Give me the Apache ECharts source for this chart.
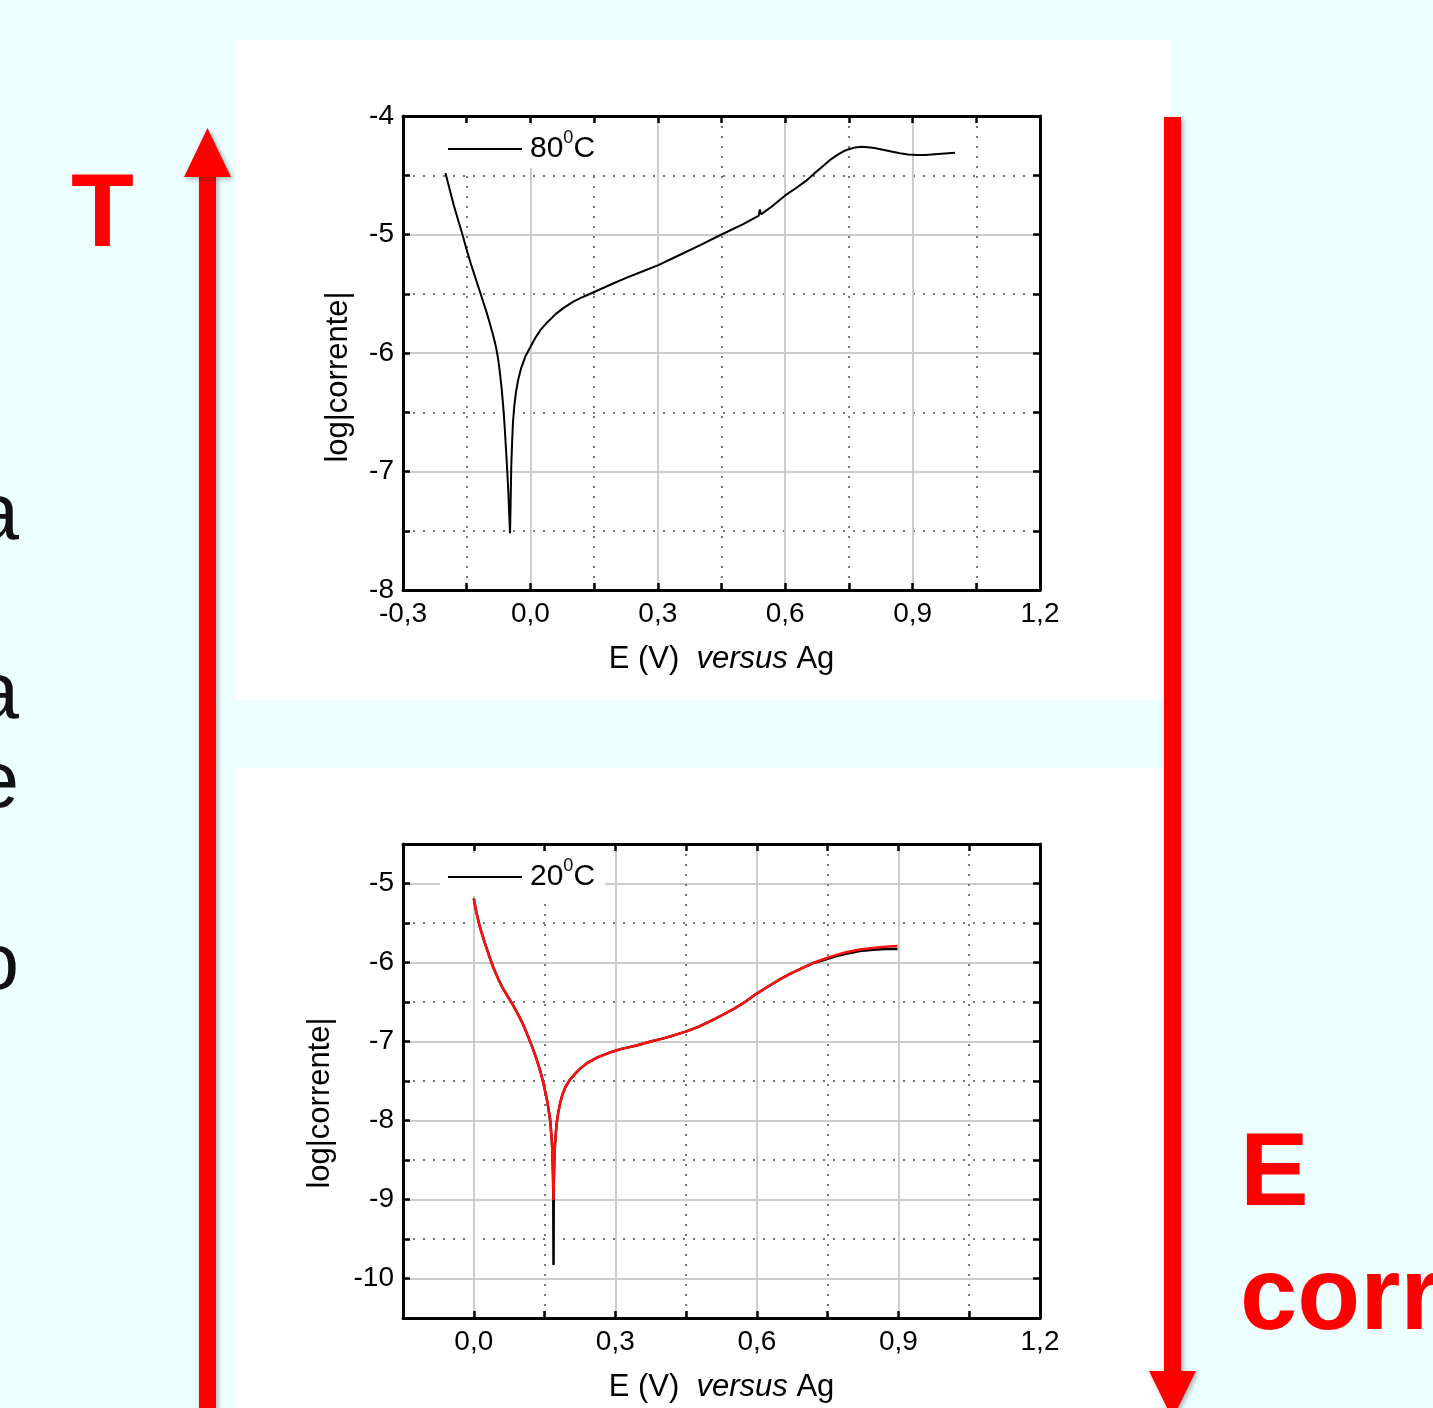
<!DOCTYPE html>
<html><head><meta charset="utf-8">
<script src="https://cdn.jsdelivr.net/npm/echarts@6/dist/echarts.min.js"></script>
<style>
html,body{margin:0;padding:0;background:#ecfefe;width:1433px;height:1408px;overflow:hidden;}
.panel{position:absolute;background:#fff;}
#chart{position:absolute;left:0;top:0;width:1433px;height:1408px;}
</style></head><body>
<div class="panel" style="left:236px;top:40px;width:934px;height:660px"></div>
<div class="panel" style="left:236px;top:768px;width:929px;height:640px"></div>
<div id="chart"></div>
<script>
// ---------- data: 80 °C ----------
const E80 = [-0.200,-0.190,-0.180,-0.170,-0.160,-0.150,-0.140,-0.130,-0.120,-0.111,-0.102,-0.094,-0.087,-0.081,-0.076,-0.072,-0.068,-0.064,-0.061,-0.058,-0.055,-0.052,-0.050,-0.048,
  -0.047,-0.046,-0.045,-0.043,-0.041,-0.038,-0.034,-0.029,-0.022,-0.012,0.000,0.012,0.025,0.040,0.060,0.080,0.102,0.125,0.150,0.175,0.200,0.230,0.265,0.300,0.350,0.400,0.450,0.500,
  0.538,0.540,0.543,0.570,0.600,0.625,0.648,0.670,0.690,0.706,0.722,0.736,0.750,0.765,0.780,0.795,0.810,0.830,0.850,0.870,0.890,0.910,0.930,0.960,1.000];
const I80 = [-4.48,-4.62,-4.76,-4.88,-5.00,-5.13,-5.25,-5.36,-5.47,-5.57,-5.67,-5.77,-5.86,-5.95,-6.05,-6.16,-6.29,-6.45,-6.60,-6.78,-6.96,-7.17,-7.35,-7.52,
  -7.35,-7.15,-6.95,-6.75,-6.58,-6.45,-6.33,-6.23,-6.13,-6.03,-5.95,-5.87,-5.80,-5.74,-5.67,-5.615,-5.565,-5.525,-5.485,-5.445,-5.405,-5.36,-5.31,-5.26,-5.175,-5.09,-5.00,-4.915,
  -4.84,-4.79,-4.83,-4.76,-4.67,-4.61,-4.55,-4.48,-4.42,-4.37,-4.33,-4.30,-4.28,-4.265,-4.26,-4.263,-4.27,-4.285,-4.30,-4.315,-4.325,-4.33,-4.33,-4.32,-4.31];

// ---------- data: 20 °C ----------
const E20 = [0.000,0.004,0.008,0.013,0.019,0.026,0.034,0.0425,0.052,0.062,0.073,0.084,0.095,0.105,0.114,0.122,0.130,0.137,0.143,0.148,0.152,0.156,0.159,0.162,0.164,0.166,0.1675,0.1685,0.169,
  0.1695,0.1705,0.172,0.174,0.176,0.179,0.183,0.188,0.194,0.203,0.213,0.226,0.241,0.262,0.288,0.315,0.345,0.375,0.402,0.425,0.449,0.478,0.506,0.530,0.553,0.575,0.598,0.622,0.647,0.670,0.695,0.718,0.742,0.765,0.789,0.818,0.846,0.872,0.898];
const I20black = [-5.19,-5.32,-5.43,-5.55,-5.67,-5.80,-5.94,-6.08,-6.21,-6.33,-6.44,-6.55,-6.67,-6.79,-6.92,-7.04,-7.17,-7.30,-7.42,-7.54,-7.65,-7.77,-7.88,-8.00,-8.15,-8.32,-8.60,-8.90,-9.83,
  -8.80,-8.55,-8.32,-8.15,-8.02,-7.90,-7.78,-7.67,-7.58,-7.49,-7.42,-7.34,-7.27,-7.20,-7.14,-7.09,-7.05,-7.00,-6.96,-6.92,-6.875,-6.81,-6.73,-6.655,-6.58,-6.50,-6.40,-6.31,-6.22,-6.145,-6.075,-6.01,-5.97,-5.925,-5.89,-5.855,-5.84,-5.83,-5.83];
const I20red = [-5.19,-5.32,-5.43,-5.55,-5.67,-5.80,-5.94,-6.08,-6.21,-6.33,-6.44,-6.55,-6.67,-6.79,-6.92,-7.04,-7.17,-7.30,-7.42,-7.54,-7.65,-7.77,-7.88,-8.00,-8.15,-8.32,-8.55,-8.80,-9.01,
  -8.80,-8.55,-8.32,-8.15,-8.02,-7.90,-7.78,-7.67,-7.58,-7.49,-7.42,-7.34,-7.27,-7.20,-7.14,-7.09,-7.05,-7.00,-6.96,-6.92,-6.875,-6.81,-6.73,-6.655,-6.58,-6.50,-6.40,-6.31,-6.22,-6.145,-6.075,-6.01,-5.955,-5.91,-5.87,-5.835,-5.815,-5.80,-5.79];

// ---------- tick labels ----------
const xTicks80 = [-0.3, 0.0, 0.3, 0.6, 0.9, 1.2];
const yTicks80 = [-8, -7, -6, -5, -4];
const xTicks20 = [0.0, 0.3, 0.6, 0.9, 1.2];
const yTicks20 = [-10, -9, -8, -7, -6, -5];

const FONT = "'Liberation Sans', Arial, Helvetica, sans-serif";
const zip = (a, b) => a.map((v, i) => [v, b[i]]);
const has = (ticks, v) => ticks.some(t => Math.abs(t - v) < 1e-6);
const xFmt = ticks => v => has(ticks, v) ? (Math.abs(v) < 1e-9 ? 0 : v).toFixed(1).replace('.', ',') : '';
const yFmt = ticks => v => has(ticks, v) ? String(Math.round(v)) : '';

const SOLID = '#cccccc', DOT = '#777777', NONE = 'rgba(0,0,0,0)';

function axisPair(kind, gi, min, max, step, majorFirst, fmt, name, nameGap, namePad) {
  const base = {
    type: 'value', gridIndex: gi, min: min, max: max, interval: step,
    axisLine: { show: true, onZero: false, lineStyle: { color: '#000', width: 3 } },
    axisTick: { show: true, inside: true, length: 7, lineStyle: { color: '#000', width: 2.5 } }
  };
  const main = Object.assign({}, base, {
    position: kind === 'x' ? 'bottom' : 'left',
    axisLabel: { formatter: fmt, color: '#000', fontSize: 28, fontFamily: FONT, margin: kind === 'x' ? 10 : 9, showMinLabel: true, showMaxLabel: true },
    splitLine: { show: true, showMinLine: true, showMaxLine: true, lineStyle: { color: majorFirst ? [NONE, DOT] : [DOT, NONE], width: 2, type: [2, 8] } },
    name: name, nameLocation: 'middle', nameGap: nameGap,
    nameTextStyle: { color: '#000', fontSize: 31, fontFamily: FONT, padding: namePad,
      rich: { i: { fontStyle: 'italic', fontSize: 31, fontFamily: FONT, color: '#000' } } }
  });
  const mirror = Object.assign({}, base, {
    position: kind === 'x' ? 'top' : 'right',
    axisLabel: { show: false },
    splitLine: { show: true, showMinLine: true, showMaxLine: true, lineStyle: { color: majorFirst ? [SOLID, NONE] : [NONE, SOLID], width: 2, type: 'solid' } }
  });
  return [main, mirror];
}

const xAxes = [
  ...axisPair('x', 0, -0.3, 1.2, 0.15, true, xFmt(xTicks80), 'E (V)  {i|versus} Ag', 54, 0),
  ...axisPair('x', 1, -0.15, 1.2, 0.15, false, xFmt(xTicks20), 'E (V)  {i|versus} Ag', 54, 0)
];
const yAxes = [
  ...axisPair('y', 0, -8, -4, 0.5, true, yFmt(yTicks80), 'log|corrente|', 49, [0, 48, 0, 0]),
  ...axisPair('y', 1, -10.5, -4.5, 0.5, false, yFmt(yTicks20), 'log|corrente|', 67, [0, 44, 0, 0])
];

const legendBase = {
  icon: 'rect', itemWidth: 74, itemHeight: 2, backgroundColor: '#fff', padding: [4, 10, 4, 8],
  selectedMode: false, left: 440,
  formatter: n => n + '{s|0}C',
  textStyle: { color: '#000', fontSize: 30, fontFamily: FONT, padding: [0, 0, 0, 3],
    rich: { s: { fontSize: 18, fontFamily: FONT, color: '#000', padding: [0, 0, 22, 0] } } }
};

const RED = '#ff0000';
const shadow = { shadowBlur: 5, shadowColor: 'rgba(0,0,0,0.3)', shadowOffsetX: 2, shadowOffsetY: 2 };
const bigRed = "bold 103px " + FONT;
const blackTxt = "80px " + FONT;

const chart = echarts.init(document.getElementById('chart'), null, { renderer: 'canvas' });
chart.setOption({
  backgroundColor: 'transparent',
  animation: false,
  grid: [
    { left: 403, top: 116, width: 637, height: 474 },
    { left: 403, top: 844, width: 637, height: 474 }
  ],
  xAxis: xAxes,
  yAxis: yAxes,
  legend: [
    Object.assign({}, legendBase, { data: ['80'], top: 125 }),
    Object.assign({}, legendBase, { data: ['20'], top: 853 })
  ],
  series: [
    { type: 'line', name: '80', xAxisIndex: 0, yAxisIndex: 0, data: zip(E80, I80), showSymbol: false, symbol: 'none',
      color: '#000', lineStyle: { color: '#000', width: 2 }, z: 5 },
    { type: 'line', name: '20', xAxisIndex: 2, yAxisIndex: 2, data: zip(E20, I20black), showSymbol: false, symbol: 'none',
      color: '#000', lineStyle: { color: '#000', width: 2.5 }, z: 5 },
    { type: 'line', name: '20 ajuste', xAxisIndex: 2, yAxisIndex: 2, data: zip(E20, I20red), showSymbol: false, symbol: 'none',
      color: '#ff1010', lineStyle: { color: '#ff1010', width: 2.5 }, z: 6 }
  ],
  graphic: [
    { type: 'rect', z: 100, shape: { x: 199, y: 175, width: 17, height: 1260 }, style: Object.assign({ fill: RED }, shadow) },
    { type: 'polygon', z: 100, shape: { points: [[184, 177], [231, 177], [207.5, 128]] }, style: Object.assign({ fill: RED }, shadow) },
    { type: 'rect', z: 100, shape: { x: 1164, y: 117, width: 17, height: 1256 }, style: Object.assign({ fill: RED }, shadow) },
    { type: 'polygon', z: 100, shape: { points: [[1149, 1371], [1196, 1371], [1172.5, 1419]] }, style: Object.assign({ fill: RED }, shadow) },
    { type: 'text', z: 100, style: { x: 71, y: 218, text: 'T', font: bigRed, fill: RED, textAlign: 'left', textVerticalAlign: 'middle' } },
    { type: 'text', z: 100, style: { x: 1240, y: 1177, text: 'E', font: bigRed, fill: RED, textAlign: 'left', textVerticalAlign: 'middle' } },
    { type: 'text', z: 100, style: { x: 1240, y: 1301, text: 'corr', font: bigRed, fill: RED, textAlign: 'left', textVerticalAlign: 'middle' } },
    { type: 'text', z: 100, style: { x: 19, y: 517, text: 'a', font: blackTxt, fill: '#111', textAlign: 'right', textVerticalAlign: 'middle' } },
    { type: 'text', z: 100, style: { x: 19, y: 696, text: 'a', font: blackTxt, fill: '#111', textAlign: 'right', textVerticalAlign: 'middle' } },
    { type: 'text', z: 100, style: { x: 19, y: 785, text: 'e', font: blackTxt, fill: '#111', textAlign: 'right', textVerticalAlign: 'middle' } },
    { type: 'text', z: 100, style: { x: 19, y: 967, text: 'o', font: blackTxt, fill: '#111', textAlign: 'right', textVerticalAlign: 'middle' } }
  ]
});
</script>
</body></html>
